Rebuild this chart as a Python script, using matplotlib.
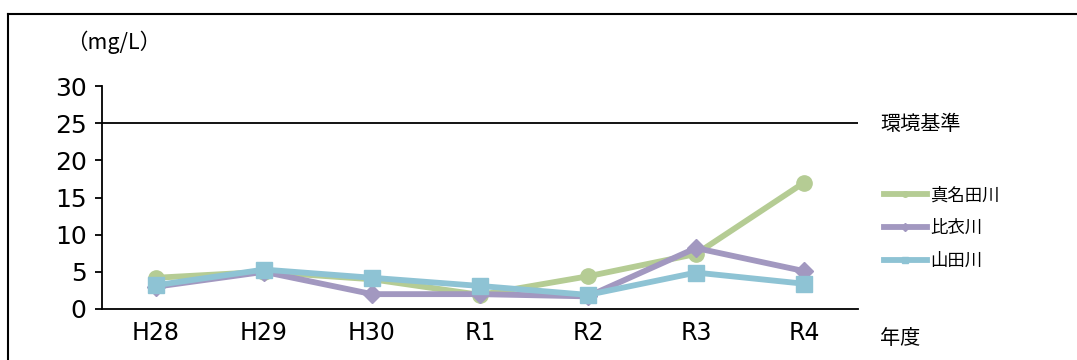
import matplotlib
matplotlib.use("Agg")
import matplotlib.pyplot as plt
from matplotlib.lines import Line2D

plt.rcParams['font.family'] = ['Noto Sans CJK JP', 'DejaVu Sans']

years = ["H28", "H29", "H30", "R1", "R2", "R3", "R4"]
manatagawa = [4.2, 5.0, 4.0, 1.9, 4.4, 7.4, 17.0]
hiegawa = [3.0, 5.0, 2.0, 2.0, 1.7, 8.2, 5.1]
yamadagawa = [3.2, 5.3, 4.2, 3.1, 1.9, 4.9, 3.4]
standard = 25
series_names = ["真名田川", "比衣川", "山田川"]

colors = ["#B5CC94", "#A298C0", "#8EC3D4"]
markers = ["o", "D", "s"]
msizes = [11, 9.5, 11]

fig = plt.figure(figsize=(10.77, 3.6), dpi=100)

# outer frame (left and top edges)
fig.add_artist(Line2D([8 / 1077, 8 / 1077], [0, 1 - 14 / 360], color="black", lw=1.5))
fig.add_artist(Line2D([8 / 1077, 1], [1 - 14 / 360, 1 - 14 / 360], color="black", lw=1.5))

ax = fig.add_axes([102 / 1077, 1 - 309 / 360, (858 - 102) / 1077, (309 - 86) / 360])

xs = list(range(len(years)))
for vals, c, m, ms in zip([manatagawa, hiegawa, yamadagawa], colors, markers, msizes):
    ax.plot(xs, vals, color=c, lw=4.2, marker=m, markersize=ms, solid_capstyle="round", zorder=3)

ax.axhline(standard, color="black", lw=1.3, zorder=2)

ax.set_xlim(-0.5, len(years) - 0.5)
ax.set_ylim(0, 30)
ax.set_yticks(range(0, 31, 5))
ax.set_xticks(xs)
ax.set_xticklabels(years)
ax.spines["top"].set_visible(False)
ax.spines["right"].set_visible(False)
ax.spines["left"].set_linewidth(1.3)
ax.spines["bottom"].set_linewidth(1.3)
ax.tick_params(axis="y", direction="out", length=5, width=1.3, labelsize=18, pad=6)
ax.tick_params(axis="x", length=0, labelsize=17, pad=9)
for lbl in ax.get_yticklabels() + ax.get_xticklabels():
    lbl.set_family(['DejaVu Sans'])

fig.text(66 / 1077, 1 - 42 / 360, "（mg/L）", fontsize=15.5, va="center", ha="left")
fig.text(880 / 1077, 1 - 125 / 360, "環境基準", fontsize=14.5, va="center", ha="left")
fig.text(880 / 1077, 1 - 338 / 360, "年度", fontsize=14.5, va="center", ha="left")

handles = [Line2D([0], [0], color=c, lw=4.2, marker=m, markersize=4) for c, m in zip(colors, markers)]
fig.legend(handles, series_names, loc="center left", bbox_to_anchor=(868 / 1077, 1 - 228 / 360),
           frameon=False, fontsize=12.5, handlelength=2.5, handletextpad=0.2, labelspacing=0.85)

fig.savefig("out.png", dpi=100)
